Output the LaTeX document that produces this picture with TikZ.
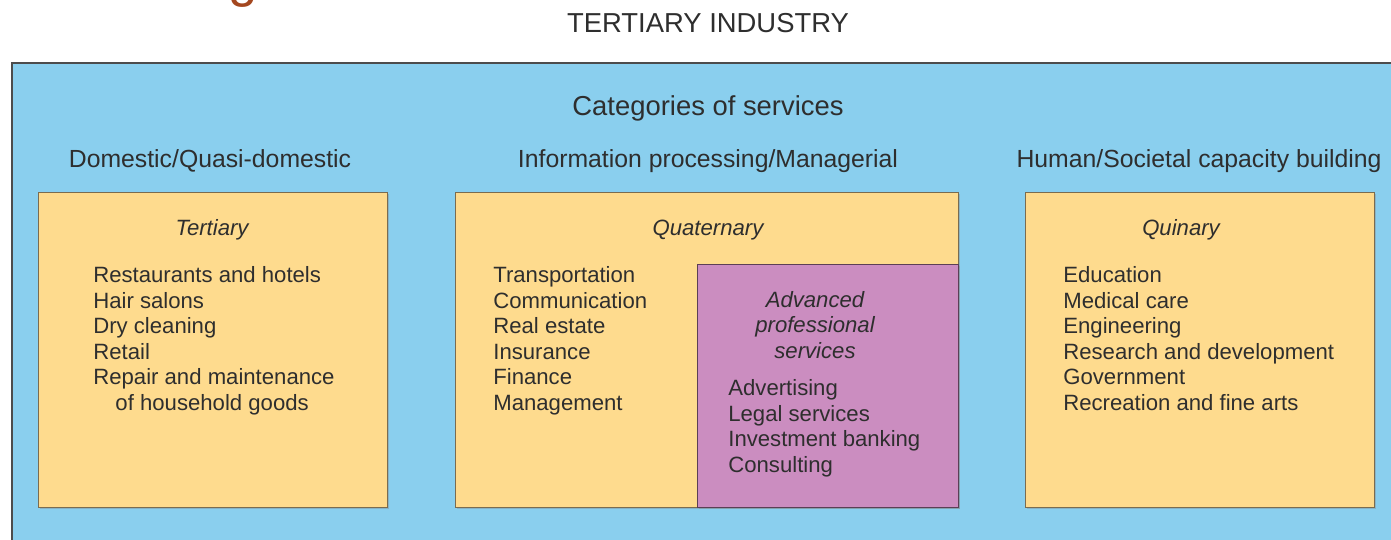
\documentclass[tikz,border=0pt]{standalone}
\usepackage{fontspec}
\setmainfont{Liberation Sans}
\usetikzlibrary{positioning, shadows}
\definecolor{skyblue}{HTML}{8ACFEE}
\definecolor{sand}{HTML}{FEDB8E}
\definecolor{mauve}{HTML}{CB8DC0}
\definecolor{inkgrey}{HTML}{2E2E2E}
\definecolor{rimbrown}{HTML}{7A6C50}
\definecolor{titlebrown}{HTML}{A4471F}
\tikzstyle{outer} = [rectangle, anchor=north west, inner sep=0pt,
minimum width=27.8cm, minimum height=10cm,
draw=black!70, line width=1.1pt, fill=skyblue]
\tikzstyle{panel} = [rectangle, anchor=north west, inner sep=0pt,
minimum height=6.3cm, draw=rimbrown, line width=0.8pt, fill=sand,
drop shadow={shadow xshift=0.8pt, shadow yshift=-0.8pt, opacity=0.35}]
\tikzstyle{apsbox} = [panel, fill=mauve, draw=black!55!mauve]
\tikzstyle{title} = [font=\fontsize{15.6}{18}\selectfont, text=inkgrey, anchor=base]
\tikzstyle{heading} = [font=\fontsize{14.1}{17}\selectfont, text=inkgrey, anchor=base]
\tikzstyle{tier} = [font=\fontsize{12.6}{14.5}\selectfont\itshape, text=inkgrey, align=center]
\tikzstyle{items} = [font=\fontsize{12.6}{14.57}\selectfont, text=inkgrey, align=left,
anchor=north west, inner sep=0pt]

\begin{document}
\begin{tikzpicture}[x=0.02cm, y=-0.02cm]

\useasboundingbox (0,0) rectangle (1391,539);
\clip (0,0) rectangle (1391,539);

% cut-off title above
\node (gfrag) [font=\fontsize{30}{32}\selectfont, text=titlebrown, anchor=base] at (243,-4) {g};
\node (industry) [title] at (708,32) {TERTIARY INDUSTRY};

\node (frame) [outer] at (11,62) {};
\node (categories) [title] at (708,115) {Categories of services};

\node (domestic) [heading] at (210,167) {Domestic/Quasi-domestic};
\node (infoproc) [heading] at (708,167) {Information processing/Managerial};
\node (societal) [heading] at (1199,167) {Human/Societal capacity building};

% the three panels
\node (tert) [panel, minimum width=6.98cm] at (38,192) {};
\node (quat) [panel, minimum width=10.06cm] at (455,192) {};
\node (aps) [apsbox, minimum width=5.22cm, minimum height=4.86cm] at (697,264) {};
\node (quin) [panel, minimum width=6.98cm] at (1025,192) {};

\node (tertlbl) [tier, anchor=base] at (212,235) {Tertiary};
\node (quatlbl) [tier, anchor=base] at (708,235) {Quaternary};
\node (quinlbl) [tier, anchor=base] at (1181,235) {Quinary};
\node (apslbl) [tier, anchor=north, inner sep=0pt] at (815,291) {Advanced\\professional\\services};

\node (tertlist) [items] at (93,266) {Restaurants and hotels\\Hair salons\\Dry cleaning\\Retail\\Repair and maintenance\\\hspace*{1em}of household goods};
\node (quatlist) [items] at (493,266) {Transportation\\Communication\\Real estate\\Insurance\\Finance\\Management};
\node (apslist) [items] at (728,379) {Advertising\\Legal services\\Investment banking\\Consulting};
\node (quinlist) [items] at (1063,266) {Education\\Medical care\\Engineering\\Research and development\\Government\\Recreation and fine arts};

\end{tikzpicture}
\end{document}
